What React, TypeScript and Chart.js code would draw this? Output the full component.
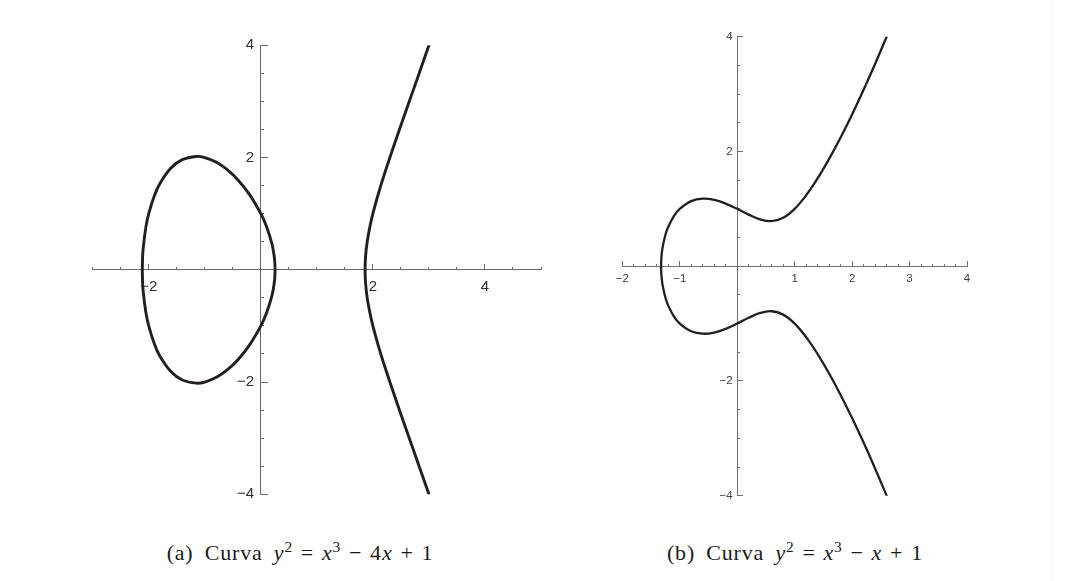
import { useEffect, useRef } from 'react';
import { Chart, registerables } from 'chart.js';

Chart.register(...registerables);

// ---------- Curve (a): y^2 = x^3 - 4x + 1 ----------
// closed oval (upper half left->right, then lower half right->left)
const ovalAX = [
  -2.1149, -2.11, -2.1, -2.05, -2, -1.9, -1.8, -1.6, -1.4, -1.15, -1, -0.8, -0.6, -0.4, -0.2, 0, 0.1, 0.2, 0.24, 0.25, 0.2541,
  0.25, 0.24, 0.2, 0.1, 0, -0.2, -0.4, -0.6, -0.8, -1, -1.15, -1.4, -1.6, -1.8, -1.9, -2, -2.05, -2.1, -2.11, -2.1149,
];
const ovalAY = [
  0, 0.2146, 0.3728, 0.7648, 1, 1.3195, 1.5388, 1.8177, 1.9637, 2.0197, 2, 1.9204, 1.7844, 1.5925, 1.3387, 1, 0.7752, 0.4561, 0.232, 0.125, 0,
  -0.125, -0.232, -0.4561, -0.7752, -1, -1.3387, -1.5925, -1.7844, -1.9204, -2, -2.0197, -1.9637, -1.8177, -1.5388, -1.3195, -1, -0.7648, -0.3728, -0.2146, 0,
];
// right branch (bottom -> top)
const branchAX = [3, 2.8, 2.6, 2.4, 2.2, 2.1, 2, 1.95, 1.9, 1.87, 1.8608, 1.87, 1.9, 1.95, 2, 2.1, 2.2, 2.4, 2.6, 2.8, 3];
const branchAY = [
  -4, -3.4281, -2.8594, -2.2856, -1.6876, -1.3642, -1, -0.7841, -0.5089, -0.2433, 0,
  0.2433, 0.5089, 0.7841, 1, 1.3642, 1.6876, 2.2856, 2.8594, 3.4281, 4,
];

// ---------- Curve (b): y^2 = x^3 - x + 1 ----------
const curveBX = [
  2.6012, 2.4, 2.2, 2, 1.8, 1.6, 1.4, 1.2, 1, 0.8, 0.6, 0.4, 0.2, 0, -0.2, -0.4, -0.6, -0.8, -1, -1.1, -1.2, -1.25, -1.3, -1.32, -1.3247,
  -1.32, -1.3, -1.25, -1.2, -1.1, -1, -0.8, -0.6, -0.4, -0.2, 0, 0.2, 0.4, 0.6, 0.8, 1, 1.2, 1.4, 1.6, 1.8, 2, 2.2, 2.4, 2.6012,
];
const curveBY = [
  4, 3.5248, 3.0737, 2.6458, 2.2432, 1.8698, 1.531, 1.2361, 1, 0.8438, 0.7849, 0.8149, 0.8989, 1, 1.0918, 1.1559, 1.1764, 1.1349, 1, 0.8769, 0.687, 0.5449, 0.3209, 0.1415, 0,
  -0.1415, -0.3209, -0.5449, -0.687, -0.8769, -1, -1.1349, -1.1764, -1.1559, -1.0918, -1, -0.8989, -0.8149, -0.7849, -0.8438, -1, -1.2361, -1.531, -1.8698, -2.2432, -2.6458, -3.0737, -3.5248, -4,
];

// ---------- axes ----------
const aXRange = [-3, 5];
const aYRange = [-4, 4];
const aXTickLabels = [-2, 2, 4];
const aYTickLabels = [-4, -2, 2, 4];
const aXMajorTicks = [-2, 0, 2, 4];

const bXRange = [-2, 4];
const bYRange = [-4, 4];
const bXTickLabels = [-2, -1, 1, 2, 3, 4];
const bYTickLabels = [-4, -2, 2, 4];
const bXMajorTicks = [-2, -1, 0, 1, 2, 3, 4];

const fmt = (v: number) => (v < 0 ? '\u2212' + Math.abs(v) : String(v));
const toPoints = (xs: number[], ys: number[]) => xs.map((x, i) => ({ x, y: ys[i] }));

interface PlotSpec {
  xRange: number[];
  yRange: number[];
  xMinorStep: number;
  yMinorStep: number;
  xMajorStep: number;
  yMajorStep: number;
  xMajorTicks: number[];
  xLabels: number[];
  yLabels: number[];
  series: { x: number; y: number }[][];
  lineWidth: number;
  fontSize: number;
  labelColor: string;
  axisColor: string;
  xMinorLen: number;
  xMajorLen: number;
  yMinorLen: number;
  yMajorLen: number;
  xLabelPad: number;
  yLabelGap: number;
  padding: { left: number; top: number; right: number; bottom: number };
}

function buildConfig(s: PlotSpec): any {
  const font = { family: '"Liberation Sans", Arial, sans-serif', size: s.fontSize };
  const empty = () => '';
  const baseGrid = (len: number) => ({
    display: true,
    drawOnChartArea: false,
    drawTicks: true,
    tickLength: -len,
    color: s.axisColor,
    tickColor: s.axisColor,
    tickWidth: 1,
    lineWidth: 1,
  });
  return {
    type: 'scatter',
    data: {
      datasets: s.series.map((pts) => ({
        data: pts,
        showLine: true,
        borderColor: '#231f20',
        backgroundColor: '#231f20',
        borderWidth: s.lineWidth,
        pointRadius: 0,
        pointHoverRadius: 0,
        tension: 0.4,
        fill: false,
        borderCapStyle: 'round',
        borderJoinStyle: 'round',
      })),
    },
    options: {
      responsive: false,
      maintainAspectRatio: false,
      animation: false,
      events: [],
      layout: { padding: s.padding },
      plugins: { legend: { display: false }, tooltip: { enabled: false }, title: { display: false } },
      scales: {
        x: {
          type: 'linear',
          axis: 'x',
          min: s.xRange[0],
          max: s.xRange[1],
          position: { y: 0 },
          ticks: { stepSize: s.xMinorStep, autoSkip: false, callback: empty, font, maxRotation: 0, minRotation: 0 },
          grid: baseGrid(s.xMinorLen),
          border: { display: true, color: s.axisColor, width: 1 },
        },
        xMajor: {
          type: 'linear',
          axis: 'x',
          min: s.xRange[0],
          max: s.xRange[1],
          position: { y: 0 },
          ticks: {
            stepSize: s.xMajorStep,
            autoSkip: false,
            maxRotation: 0,
            minRotation: 0,
            font,
            color: s.labelColor,
            padding: s.xLabelPad,
            callback: (v: number) => (s.xLabels.includes(v) ? fmt(v) : ''),
          },
          grid: {
            ...baseGrid(s.xMajorLen),
            tickColor: (ctx: any) => (ctx.tick && s.xMajorTicks.includes(ctx.tick.value) ? s.axisColor : 'rgba(0,0,0,0)'),
          },
          border: { display: false },
        },
        y: {
          type: 'linear',
          axis: 'y',
          min: s.yRange[0],
          max: s.yRange[1],
          position: { x: 0 },
          ticks: { stepSize: s.yMinorStep, autoSkip: false, callback: empty, font },
          grid: baseGrid(s.yMinorLen),
          border: { display: true, color: s.axisColor, width: 1 },
        },
        yMajor: {
          type: 'linear',
          axis: 'y',
          min: s.yRange[0],
          max: s.yRange[1],
          position: { x: 0 },
          ticks: { stepSize: s.yMajorStep, autoSkip: false, callback: empty, font },
          grid: baseGrid(s.yMajorLen),
          border: { display: false },
        },
        yLab: {
          type: 'linear',
          axis: 'y',
          min: s.yRange[0],
          max: s.yRange[1],
          position: { x: -s.yLabelGap },
          ticks: {
            stepSize: s.yMajorStep,
            autoSkip: false,
            font,
            color: s.labelColor,
            callback: (v: number) => (s.yLabels.includes(v) ? fmt(v) : ''),
          },
          grid: { display: false, drawTicks: false },
          border: { display: false },
        },
      },
    },
  };
}

const specA: PlotSpec = {
  xRange: aXRange,
  yRange: aYRange,
  xMinorStep: 0.5,
  yMinorStep: 0.5,
  xMajorStep: 1,
  yMajorStep: 2,
  xMajorTicks: aXMajorTicks,
  xLabels: aXTickLabels,
  yLabels: aYTickLabels,
  series: [toPoints(ovalAX, ovalAY), toPoints(branchAX, branchAY)],
  lineWidth: 2.9,
  fontSize: 15,
  labelColor: '#2e2e2e',
  axisColor: '#6a6a6a',
  xMinorLen: 3,
  xMajorLen: 6,
  yMinorLen: 4,
  yMajorLen: 7,
  xLabelPad: 14,
  yLabelGap: 0.12,
  padding: { left: 32.7, top: 25.3, right: 39, bottom: 25.7 },
};

const specB: PlotSpec = {
  xRange: bXRange,
  yRange: bYRange,
  xMinorStep: 0.2,
  yMinorStep: 0.5,
  xMajorStep: 1,
  yMajorStep: 2,
  xMajorTicks: bXMajorTicks,
  xLabels: bXTickLabels,
  yLabels: bYTickLabels,
  series: [toPoints(curveBX, curveBY)],
  lineWidth: 2.3,
  fontSize: 11.5,
  labelColor: '#3c3c3c',
  axisColor: '#707070',
  xMinorLen: 3,
  xMajorLen: 5,
  yMinorLen: 3,
  yMajorLen: 6,
  xLabelPad: 11,
  yLabelGap: 0.08,
  padding: { left: 32.3, top: 26.7, right: 43, bottom: 34.3 },
};

const captionStyle: any = {
  position: 'absolute',
  top: 540,
  textAlign: 'center',
  fontFamily: '"Liberation Serif", "Times New Roman", serif',
  fontSize: 22,
  lineHeight: '26px',
  color: '#1a1a1a',
  whiteSpace: 'nowrap',
  wordSpacing: 5,
  letterSpacing: 0.8,
};
const supStyle: any = { fontSize: '0.7em', verticalAlign: '0.5em', lineHeight: 0 };
const op: any = { margin: '0 0.36em' };

export default function App() {
  const refA = useRef<HTMLCanvasElement | null>(null);
  const refB = useRef<HTMLCanvasElement | null>(null);

  useEffect(() => {
    const charts: Chart[] = [];
    if (refA.current) charts.push(new Chart(refA.current, buildConfig(specA)));
    if (refB.current) charts.push(new Chart(refB.current, buildConfig(specB)));
    return () => charts.forEach((c) => c.destroy());
  }, []);

  return (
    <div style={{ position: 'absolute', left: 0, top: 0, width: 1066, height: 581, background: '#ffffff', overflow: 'hidden' }}>
      <canvas ref={refA} width={520} height={500} style={{ position: 'absolute', left: 60, top: 20, display: 'block' }} />
      <canvas ref={refB} width={420} height={520} style={{ position: 'absolute', left: 590, top: 10, display: 'block' }} />
      <div style={{ ...captionStyle, left: 0, width: 600 }}>
        (a) Curva <i>y</i>
        <sup style={supStyle}>2</sup>
        <span style={op}>=</span>
        <i>x</i>
        <sup style={supStyle}>3</sup>
        <span style={op}>−</span>4<i>x</i>
        <span style={op}>+</span>1
      </div>
      <div style={{ ...captionStyle, left: 545, width: 500 }}>
        (b) Curva <i>y</i>
        <sup style={supStyle}>2</sup>
        <span style={op}>=</span>
        <i>x</i>
        <sup style={supStyle}>3</sup>
        <span style={op}>−</span>
        <i>x</i>
        <span style={op}>+</span>1
      </div>
      <div style={{ position: 'absolute', left: 1052, top: 0, width: 1, height: 581, background: '#f6f6f6' }} />
    </div>
  );
}
